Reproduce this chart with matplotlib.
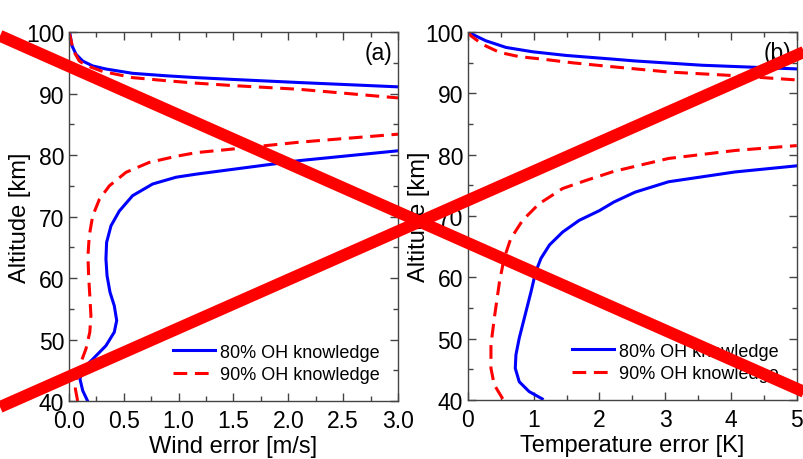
import numpy as np
import matplotlib.pyplot as plt
from matplotlib.lines import Line2D
from matplotlib.ticker import MultipleLocator

plt.rcParams['font.family'] = ['Liberation Sans', 'DejaVu Sans']

# panel (a): wind error [m/s] vs altitude [km]
wind80_up_x = [0.0, 0.009, 0.027, 0.064, 0.125, 0.216, 0.337, 0.58, 0.885, 1.16, 1.5, 2.1, 3.0]
wind80_up_alt = [100, 99.7, 97.8, 96.4, 95.3, 94.5, 94.0, 93.3, 92.9, 92.6, 92.3, 91.8, 91.1]
wind90_up_x = [0.0, 0.009, 0.04, 0.094, 0.155, 0.307, 0.58, 0.885, 1.16, 1.5, 2.1, 3.0]
wind90_up_alt = [100, 99.4, 97.0, 95.3, 94.6, 93.6, 92.6, 92.1, 91.7, 91.3, 90.7, 89.3]
wind80_lo_x = [0.17, 0.125, 0.10, 0.125, 0.216, 0.337, 0.413, 0.435, 0.413, 0.374, 0.347, 0.337,
               0.343, 0.383, 0.459, 0.58, 0.763, 0.976, 1.16, 1.5, 2.1, 3.0]
wind80_lo_alt = [40.0, 41.7, 43.6, 45.2, 46.8, 49.0, 51.2, 53.1, 55.5, 57.7, 60.4, 63.1,
                 65.8, 68.5, 70.9, 73.4, 75.3, 76.4, 76.9, 77.7, 79.1, 80.7]
wind90_lo_x = [0.079, 0.058, 0.07, 0.109, 0.155, 0.19, 0.20, 0.19, 0.179, 0.173, 0.185, 0.216,
               0.277, 0.368, 0.52, 0.73, 0.976, 1.16, 1.5, 2.1, 3.0]
wind90_lo_alt = [40.0, 42.0, 44.1, 46.3, 48.5, 51.2, 53.9, 57.1, 60.4, 63.6, 66.9, 70.1,
                 72.8, 75.0, 77.2, 78.8, 79.8, 80.4, 81.0, 82.1, 83.4]

# panel (b): temperature error [K] vs altitude [km]
temp80_up_x = [0.0, 0.02, 0.27, 0.58, 0.98, 1.49, 2.2, 2.54, 3.56, 5.0]
temp80_up_alt = [100, 99.9, 98.6, 97.5, 96.8, 96.2, 95.6, 95.3, 94.6, 94.0]
temp90_up_x = [0.0, 0.046, 0.22, 0.48, 0.78, 1.13, 1.59, 2.15, 3.05, 4.06, 5.0]
temp90_up_alt = [100, 99.4, 98.0, 96.7, 96.0, 95.6, 95.0, 94.4, 93.5, 92.9, 92.2]
temp80_lo_x = [1.13, 0.93, 0.78, 0.72, 0.73, 0.78, 0.87, 0.96, 1.03, 1.11, 1.24, 1.44, 1.69,
               2.0, 2.22, 2.54, 3.05, 4.06, 5.0]
temp80_lo_alt = [40.2, 41.4, 43.0, 45.2, 47.4, 50.1, 53.9, 57.7, 60.9, 63.1, 65.3, 67.4, 69.3,
                 70.9, 72.3, 73.9, 75.6, 77.2, 78.2]
temp90_lo_x = [0.53, 0.40, 0.35, 0.35, 0.40, 0.48, 0.55, 0.65, 0.83, 1.08, 1.44, 1.79, 2.22,
               3.05, 4.06, 5.0]
temp90_lo_alt = [40.2, 42.5, 45.2, 49.0, 53.3, 59.3, 63.1, 66.3, 69.3, 72.0, 74.5, 75.8, 77.3,
                 79.4, 80.7, 81.5]

labels = ['80% OH knowledge', '90% OH knowledge']

blue = '#0000ff'
red = '#ff0000'
dash = (0, (4.5, 2.5))

fig = plt.figure(figsize=(8.04, 4.60), dpi=100)
ax1 = fig.add_axes([0.0858, 0.126, 0.4092, 0.802])
ax2 = fig.add_axes([0.582, 0.128, 0.409, 0.800])

panels = [
    (ax1, wind80_up_x, wind80_up_alt, wind80_lo_x, wind80_lo_alt,
     wind90_up_x, wind90_up_alt, wind90_lo_x, wind90_lo_alt),
    (ax2, temp80_up_x, temp80_up_alt, temp80_lo_x, temp80_lo_alt,
     temp90_up_x, temp90_up_alt, temp90_lo_x, temp90_lo_alt),
]

for ax, bx1, by1, bx2, by2, rx1, ry1, rx2, ry2 in panels:
    ax.plot(bx1, by1, color=blue, lw=2.2, label=labels[0])
    ax.plot(bx2, by2, color=blue, lw=2.2)
    ax.plot(rx1, ry1, color=red, lw=2.2, ls=dash, label=labels[1])
    ax.plot(rx2, ry2, color=red, lw=2.2, ls=dash)
    ax.set_ylim(40, 100)
    ax.yaxis.set_major_locator(MultipleLocator(10))
    ax.yaxis.set_minor_locator(MultipleLocator(5))
    ax.tick_params(which='both', direction='in', top=True, right=True,
                   labelsize=16.5, color='#444444')
    ax.tick_params(which='major', length=6, width=1)
    ax.tick_params(which='minor', length=3.5, width=1)
    ax.tick_params(axis='x', pad=6)
    for s in ax.spines.values():
        s.set_color('#444444')
        s.set_linewidth(1)
    ax.set_ylabel('Altitude [km]', fontsize=17)
    ax.yaxis.set_label_coords(-0.115, 0.5)
    ax.legend(loc='lower right', frameon=False, fontsize=13, handlelength=2.3,
              handletextpad=0.3, labelspacing=0.3, borderaxespad=0.6)

ax1.set_xlim(0, 3.0)
ax1.xaxis.set_major_locator(MultipleLocator(0.5))
ax1.xaxis.set_minor_locator(MultipleLocator(0.25))
ax1.xaxis.set_major_formatter(plt.FormatStrFormatter('%.1f'))
ax1.set_xlabel('Wind error [m/s]', fontsize=17, labelpad=2)
ax1.text(0.983, 0.975, '(a)', transform=ax1.transAxes, ha='right', va='top', fontsize=16.5)

ax2.set_xlim(0, 5)
ax2.xaxis.set_major_locator(MultipleLocator(1))
ax2.xaxis.set_minor_locator(MultipleLocator(0.5))
ax2.set_xlabel('Temperature error [K]', fontsize=17, labelpad=2)
ax2.text(0.983, 0.975, '(b)', transform=ax2.transAxes, ha='right', va='top', fontsize=16.5)

# big red cross over the whole figure
cross_a = ([0.0, 1.0], [0.920, 0.146])
cross_b = ([0.0, 1.0], [0.113, 0.885])
for xs, ys in (cross_a, cross_b):
    fig.add_artist(Line2D(xs, ys, transform=fig.transFigure, color=red,
                          lw=8.6, solid_capstyle='butt', zorder=100))

fig.savefig('out.png', dpi=100, facecolor='white')
